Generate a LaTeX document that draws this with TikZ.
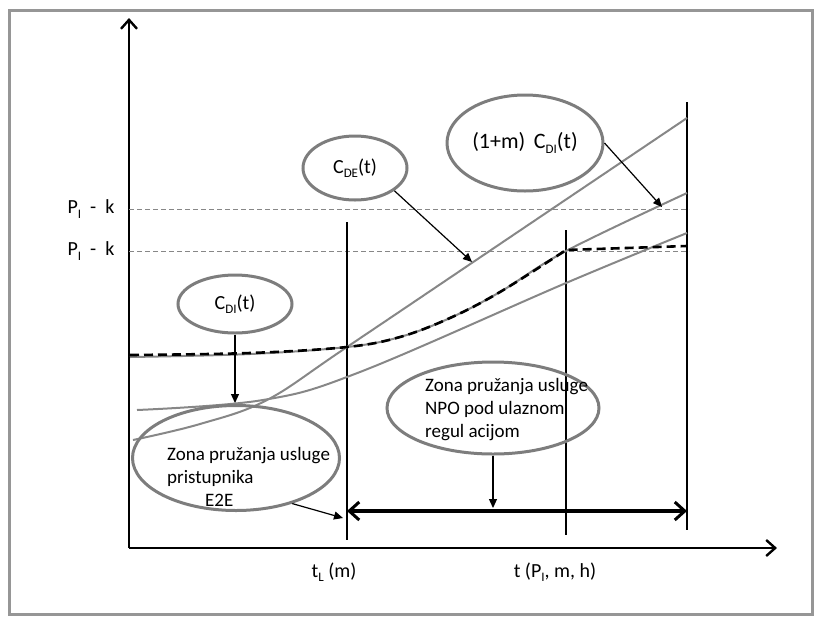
\documentclass[tikz,border=0pt]{standalone}
\usepackage{fontspec}
\setmainfont{Carlito}
\usetikzlibrary{arrows.meta,shapes.geometric}
\definecolor{cgray}{RGB}{135,135,135}
\definecolor{egray}{RGB}{125,125,125}
\definecolor{fgray}{RGB}{150,150,150}
\newcommand{\lowsub}[1]{\raisebox{-0.45ex}{\fontsize{13}{13}\selectfont #1}}
\begin{document}
\begin{tikzpicture}[x=1pt,y=-1pt,
  curve/.style={draw=cgray,line width=2pt},
  dashcurve/.style={draw=black,line width=2.6pt,dash pattern=on 9pt off 5pt},
  bubble/.style={ellipse,draw=egray,line width=3pt,inner sep=0pt},
  lbl/.style={font=\fontsize{19}{23}\selectfont,inner sep=0pt},
  biglbl/.style={font=\fontsize{20}{24}\selectfont,inner sep=0pt},
  guide/.style={draw=cgray,dash pattern=on 5pt off 3pt,line width=0.9pt},
  vline/.style={draw=black,line width=1.2pt},
  pointer/.style={draw=black,line width=1.2pt,-{Triangle[length=9pt,width=8pt]}},
  axis/.style={draw=black,line width=2pt,-{Straight Barb[length=9pt,width=16pt,line width=2.4pt]}},
  span/.style={draw=black,line width=3.5pt,{Straight Barb[length=10pt,width=18pt,line width=3pt]}-{Straight Barb[length=10pt,width=18pt,line width=3pt]}},
]
\useasboundingbox (0,0) rectangle (821,622);
\draw[draw=fgray,line width=3pt] (9,10) rectangle (812,614);

% axes
\coordinate (O) at (129,548);
\coordinate (ytip) at (129,18);
\coordinate (xtip) at (777,548);
\draw[axis] (O) -- (ytip);
\draw[axis] (O) -- (xtip);

% guides
\coordinate (g1a) at (129,209);
\coordinate (g1b) at (689,209);
\coordinate (g2a) at (129,251);
\coordinate (g2b) at (689,251);
\draw[guide] (g1a) -- (g1b);
\draw[guide] (g2a) -- (g2b);
\node[biglbl] (p1) at (91,209) {P\lowsub{I}\ \ -\ \ k};
\node[biglbl] (p2) at (91,251) {P\lowsub{I}\ \ -\ \ k};

% vertical lines
\coordinate (v1t) at (347,222); \coordinate (v1b) at (347,540);
\coordinate (v2t) at (566,230); \coordinate (v2b) at (566,535);
\coordinate (v3t) at (687,102); \coordinate (v3b) at (687,530);
\draw[vline] (v1t) -- (v1b);
\draw[vline] (v2t) -- (v2b);
\draw[vline] (v3t) -- (v3b);

% curves
\draw[curve] plot[smooth,tension=0.6] coordinates {(133,440) (200,424) (267,400) (347,347) (540,217) (687,118)};
\draw[curve] plot[smooth,tension=0.6] coordinates {(130,357) (250,354) (347,347) (400,337) (450,318) (500,292) (566,251) (687,193)};
\draw[curve] plot[smooth,tension=0.6] coordinates {(137,410) (263,400) (360,372) (566,283) (687,233)};
\draw[dashcurve] plot[smooth,tension=0.6] coordinates {(130,355) (250,353) (347,347) (400,337) (450,318) (500,292) (566,250)} -- (687,246);

% span arrow
\coordinate (sa) at (347,511);
\coordinate (sb) at (687,511);
\draw[span] (sa) -- (sb);

% bubbles
\node[bubble,biglbl,minimum width=114pt,minimum height=58pt] (cdi) at (235,304) {C\lowsub{DI}(t)};
\node[bubble,biglbl,minimum width=104pt,minimum height=64pt] (cde) at (355,168) {C\lowsub{DE}(t)};
\node[bubble,biglbl,minimum width=156pt,minimum height=96pt] (cdim) at (525,143) {\fontsize{22}{24}\selectfont(1+m)\,\ C\lowsub{DI}(t)};
\node[bubble,minimum width=207pt,minimum height=105pt] (e2e) at (236,458) {};
\node[bubble,minimum width=212pt,minimum height=92pt] (npo) at (493,408) {};
\node[lbl,align=left,anchor=west] (t1) at (167,477) {Zona pružanja usluge\\pristupnika\\\hspace*{38pt}E2E};
\node[lbl,align=left,anchor=west] (t2) at (425,410) {Zona pružanja usluge\\NPO pod ulaznom\\regul acijom};

% pointers
\coordinate (cdiT) at (235,403);
\coordinate (cdeT) at (472,262);
\coordinate (cdimT) at (662,207);
\coordinate (e2eT) at (343,518);
\coordinate (npoT) at (493,508);
\draw[pointer] (cdi.south) -- (cdiT);
\draw[pointer] (cde.-30) -- (cdeT);
\draw[pointer] (cdim.east) -- (cdimT);
\draw[pointer] (e2e.-39) -- (e2eT);
\draw[pointer] (npo.south) -- (npoT);

% axis labels
\node[biglbl] (tl) at (334,572) {t\lowsub{L} (m)};
\node[biglbl] (tp) at (555,572) {t (P\lowsub{I}, m, h)};
\end{tikzpicture}
\end{document}
